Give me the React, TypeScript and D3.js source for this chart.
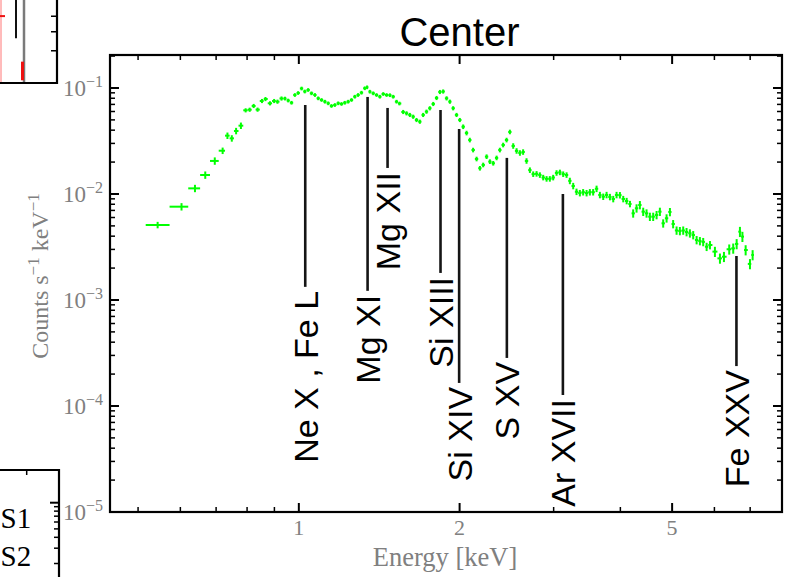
import React from 'react';
import * as d3 from 'd3';

// ---------- spectrum data (Energy keV, Counts s^-1 keV^-1, relative error) ----------
const energy = [
  0.544, 0.603, 0.639, 0.668, 0.696, 0.720, 0.735, 0.749, 0.763, 0.779,
  0.795, 0.809, 0.823, 0.837, 0.853, 0.866, 0.883, 0.899, 0.912, 0.928,
  0.942, 0.955, 0.969, 0.983, 0.997, 1.012, 1.026, 1.041, 1.056, 1.072,
  1.087, 1.103, 1.119, 1.135, 1.151, 1.168, 1.185, 1.202, 1.219, 1.237,
  1.255, 1.273, 1.291, 1.310, 1.329, 1.342, 1.358, 1.378, 1.398, 1.418,
  1.439, 1.460, 1.481, 1.502, 1.524, 1.543, 1.568, 1.591, 1.614, 1.637,
  1.661, 1.685, 1.709, 1.734, 1.759, 1.785, 1.811, 1.837, 1.863, 1.891,
  1.918, 1.945, 1.974, 2.002, 2.031, 2.061, 2.090, 2.120, 2.152, 2.183,
  2.214, 2.247, 2.279, 2.312, 2.346, 2.379, 2.413, 2.449, 2.484, 2.520,
  2.557, 2.594, 2.630, 2.669, 2.708, 2.747, 2.787, 2.827, 2.868, 2.910,
  2.951, 2.994, 3.038, 3.082, 3.126, 3.172, 3.217, 3.264, 3.311, 3.359,
  3.407, 3.458, 3.507, 3.557, 3.610, 3.662, 3.715, 3.769, 3.824, 3.879,
  3.935, 3.992, 4.050, 4.110, 4.169, 4.227, 4.289, 4.351, 4.414, 4.478,
  4.543, 4.608, 4.676, 4.743, 4.811, 4.882, 4.953, 5.022, 5.097, 5.170,
  5.245, 5.321, 5.398, 5.476, 5.557, 5.636, 5.717, 5.802, 5.886, 6.013,
  6.145, 6.252, 6.396, 6.507, 6.604, 6.698, 6.770, 6.865, 6.994, 7.075,
];

const counts = [
  0.00510, 0.00759, 0.0113, 0.0151, 0.0205, 0.0256, 0.0355, 0.0335, 0.0393, 0.0441,
  0.0616, 0.0624, 0.0677, 0.0625, 0.0754, 0.0787, 0.0717, 0.0754, 0.0743, 0.0796,
  0.0795, 0.0762, 0.0726, 0.0859, 0.0897, 0.0989, 0.0927, 0.0958, 0.0891, 0.0859,
  0.0799, 0.0771, 0.0743, 0.0717, 0.0677, 0.0691, 0.0717, 0.0707, 0.0726, 0.0743,
  0.0771, 0.0828, 0.0859, 0.0903, 0.0994, 0.1015, 0.0923, 0.0891, 0.0859, 0.0828,
  0.0878, 0.0859, 0.0855, 0.0828, 0.0743, 0.0714, 0.0594, 0.0577, 0.0557, 0.0536,
  0.0499, 0.0481, 0.0557, 0.0598, 0.0644, 0.0707, 0.0805, 0.0917, 0.0927, 0.0799,
  0.0743, 0.0644, 0.0557, 0.0499, 0.0431, 0.0376, 0.0323, 0.0260, 0.0214, 0.0175,
  0.0188, 0.0225, 0.0202, 0.0195, 0.0219, 0.0260, 0.0290, 0.0323, 0.0385, 0.0284,
  0.0255, 0.0244, 0.0249, 0.0205, 0.0168, 0.0154, 0.0155, 0.0151, 0.0143, 0.0139,
  0.0139, 0.0143, 0.0158, 0.0160, 0.0154, 0.0151, 0.0133, 0.0119, 0.0105, 0.0102,
  0.0104, 0.0102, 0.0104, 0.0104, 0.0112, 0.00979, 0.00943, 0.00979, 0.00937, 0.00897,
  0.00979, 0.00975, 0.00897, 0.00859, 0.00805, 0.00657, 0.00733, 0.00787, 0.00681, 0.00657,
  0.00611, 0.00611, 0.00634, 0.00681, 0.00529, 0.00590, 0.00677, 0.00521, 0.00453, 0.00448,
  0.00453, 0.00438, 0.00426, 0.00410, 0.00368, 0.00360, 0.00353, 0.00318, 0.00330, 0.00286,
  0.00247, 0.00256, 0.00301, 0.00307, 0.00338, 0.00441, 0.00396, 0.00296, 0.00219, 0.00266,
];

const relErr = [
  0.07, 0.08, 0.08, 0.08, 0.08, 0.07, 0.07, 0.07, 0.07, 0.07,
  0.045, 0.045, 0.045, 0.045, 0.045, 0.045, 0.045, 0.045, 0.045, 0.045,
  0.04, 0.04, 0.04, 0.04, 0.04, 0.04, 0.04, 0.04, 0.04, 0.04,
  0.04, 0.04, 0.04, 0.04, 0.04, 0.04, 0.04, 0.04, 0.04, 0.04,
  0.04, 0.04, 0.04, 0.04, 0.04, 0.04, 0.04, 0.04, 0.04, 0.04,
  0.04, 0.04, 0.04, 0.04, 0.04, 0.04, 0.045, 0.045, 0.045, 0.045,
  0.045, 0.045, 0.045, 0.045, 0.045, 0.045, 0.045, 0.045, 0.045, 0.045,
  0.045, 0.045, 0.045, 0.045, 0.05, 0.05, 0.05, 0.05, 0.05, 0.05,
  0.05, 0.05, 0.05, 0.05, 0.05, 0.05, 0.05, 0.05, 0.05, 0.06,
  0.06, 0.06, 0.06, 0.06, 0.06, 0.06, 0.06, 0.06, 0.06, 0.06,
  0.06, 0.06, 0.06, 0.06, 0.06, 0.06, 0.07, 0.07, 0.07, 0.07,
  0.07, 0.07, 0.07, 0.07, 0.07, 0.07, 0.07, 0.07, 0.07, 0.07,
  0.07, 0.07, 0.07, 0.07, 0.07, 0.09, 0.09, 0.09, 0.09, 0.09,
  0.09, 0.09, 0.09, 0.09, 0.09, 0.09, 0.09, 0.09, 0.09, 0.09,
  0.09, 0.09, 0.09, 0.09, 0.09, 0.09, 0.09, 0.09, 0.09, 0.11,
  0.11, 0.11, 0.11, 0.11, 0.11, 0.11, 0.11, 0.11, 0.11, 0.11,
];

// ---------- emission line markers ----------
const lineLabels = ['Ne X , Fe L', 'Mg XI', 'Mg XII', 'Si XIII', 'Si XIV', 'S XV', 'Ar XVII', 'Fe XXV'];
const lineEnergy = [1.028, 1.345, 1.466, 1.842, 1.996, 2.452, 3.122, 6.598];
const lineTop = [0.0691, 0.0823, 0.0648, 0.0620, 0.0410, 0.0219, 0.0100, 0.0026];
const lineBottom = [1.33e-3, 1.22e-3, 1.76e-2, 1.80e-3, 1.65e-4, 2.84e-4, 1.27e-4, 2.38e-4];

// ---------- axes ----------
const xMajorTicks = [1, 2, 5];
const xMajorLabels = ['1', '2', '5'];
const xMinorTicks = [0.5, 0.6, 0.7, 0.8, 0.9, 3, 4, 6, 7];
const yDecadeExps = [-1, -2, -3, -4, -5];
const yMinorMults = [2, 3, 4, 5, 6, 7, 8, 9];
const titleText = 'Center';
const xLabelText = 'Energy [keV]';

// ---------- fragments of neighbouring panels ----------
const tlSegX = [5.9, 6.7, 6.55, 4.4];
const tlSegY0 = [7.26, 7.26, 3.52, 7.26];
const tlSegY1 = [4.64, 2.74, 2.83, 2.74];
const tlSegColor = ['#111111', '#7a7a7a', '#ee1111', '#ff7777'];
const tlSegWidth = [2, 2.5, 3, 1];
const tlHorizY = 6.01;
const tlHorizX = [4.3, 4.8];
const tlRightTicks = [4, 5, 6];
const blMajorTicks = [1];
const blMinorTicks = [0.9, 0.8, 0.7, 0.6, 0.5, 0.4, 0.3, 0.2];
const blTopTicks = [0.91];
const legendLabels = ['S1', 'S2'];

const W = 785, H = 577;
const PL = 110, PR = 782, PT = 55, PB = 512;
const SERIF = "'Liberation Serif', 'DejaVu Serif', serif";
const SANS = "'Liberation Sans', Arial, sans-serif";
const GRAY = '#808080';
const GREEN = '#00ff00';

export default function App() {
  const x = d3.scaleLog().domain([0.443, 8.03]).range([PL, PR]);
  const y = d3.scaleLog().domain([1e-5, 0.2047]).range([PB, PT]);

  const n = Math.min(energy.length, counts.length, relErr.length);
  const pts = d3.range(n).map((i) => {
    const e = energy[i];
    const lo = i > 0 ? Math.sqrt(energy[i - 1] * e) : (e * e) / Math.sqrt(e * energy[i + 1]);
    const hi = i < n - 1 ? Math.sqrt(e * energy[i + 1]) : (e * e) / Math.sqrt(energy[i - 1] * e);
    return { e, c: counts[i], lo, hi, err: relErr[i] };
  });

  const yMajor = yDecadeExps.map((p) => Math.pow(10, p));
  const yMinor: number[] = [];
  yDecadeExps.forEach((p) => yMinorMults.forEach((k) => {
    const v = k * Math.pow(10, p);
    if (v < 0.2047) yMinor.push(v);
  }));

  const MAJ = 9, MIN = 5;

  // neighbour panel scales
  const tlX = d3.scaleLinear().domain([0, 10]).range([-43, 57]);
  const tlY = d3.scaleLog().domain([2.74, 7.26]).range([83, 0]);
  const blY = d3.scaleLog().domain([0.1, 2.376]).range([589.7, 470]);
  const blX = d3.scaleLinear().domain([0, 1]).range([-300, 59]);

  return (
    <svg width={W} height={H} style={{ position: 'absolute', left: 0, top: 0, background: '#fff' }}>
      <defs>
        <clipPath id="plotclip">
          <rect x={PL} y={PT} width={PR - PL} height={PB - PT} />
        </clipPath>
      </defs>
      <rect x={0} y={0} width={W} height={H} fill="#fff" />

      {/* top-left neighbour panel fragment */}
      <g>
        {tlSegX.map((v, i) => (
          <line key={'tls' + i} x1={tlX(v)} x2={tlX(v)} y1={tlY(tlSegY0[i])} y2={tlY(tlSegY1[i])}
            stroke={tlSegColor[i]} strokeWidth={tlSegWidth[i]} />
        ))}
        <line x1={tlX(tlHorizX[0])} x2={tlX(tlHorizX[1])} y1={tlY(tlHorizY)} y2={tlY(tlHorizY)} stroke="#ee1111" strokeWidth={2} />
        {tlRightTicks.map((v, i) => (
          <line key={'tlt' + i} x1={57} x2={57 - 6} y1={tlY(v)} y2={tlY(v)} stroke="#000" strokeWidth={1.5} />
        ))}
        <path d={`M-5,${tlY(2.74)} H57 V0`} fill="none" stroke="#000" strokeWidth={2.2} />
      </g>

      {/* bottom-left neighbour panel fragment */}
      <g>
        {blMajorTicks.map((v, i) => (
          <line key={'blM' + i} x1={59} x2={59 - 9} y1={blY(v)} y2={blY(v)} stroke="#000" strokeWidth={2} />
        ))}
        {blMinorTicks.map((v, i) => (
          <line key={'blm' + i} x1={59} x2={59 - 5} y1={blY(v)} y2={blY(v)} stroke="#000" strokeWidth={1.5} />
        ))}
        {blTopTicks.map((v, i) => (
          <line key={'blt' + i} x1={blX(v)} x2={blX(v)} y1={470} y2={475} stroke="#000" strokeWidth={1.5} />
        ))}
        <path d={`M-5,470 H59 V${H + 5}`} fill="none" stroke="#000" strokeWidth={2.2} />
        {legendLabels.map((t, i) => (
          <text key={'lg' + i} x={0.5} y={528 + i * 38} fontFamily={SERIF} fontSize={29} fill="#000">{t}</text>
        ))}
      </g>

      {/* title */}
      <text x={459.5} y={46} textAnchor="middle" fontFamily={SANS} fontSize={40} fill="#000">{titleText}</text>

      {/* data */}
      <g clipPath="url(#plotclip)">
        {pts.map((p, i) => (
          <g key={'p' + i} stroke={GREEN} strokeWidth={2}>
            <line x1={x(p.lo)} x2={x(p.hi)} y1={y(p.c)} y2={y(p.c)} />
            <line x1={x(p.e)} x2={x(p.e)} y1={y(p.c * (1 - p.err))} y2={y(p.c * (1 + p.err))} />
          </g>
        ))}
      </g>

      {/* emission lines */}
      {lineLabels.map((lab, i) => {
        const lx = x(lineEnergy[i]);
        const yb = y(lineBottom[i]);
        return (
          <g key={'el' + i}>
            <line x1={lx} x2={lx} y1={y(lineTop[i])} y2={yb} stroke="#151515" strokeWidth={2.6} />
            <text transform={`translate(${lx + 12.5},${yb + 4}) rotate(-90)`} textAnchor="end"
              fontFamily={SANS} fontSize={34} fill="#000">{lab}</text>
          </g>
        );
      })}

      {/* ticks */}
      <g stroke="#000">
        {xMajorTicks.map((v, i) => (
          <g key={'xM' + i} strokeWidth={2}>
            <line x1={x(v)} x2={x(v)} y1={PB} y2={PB - MAJ} />
            <line x1={x(v)} x2={x(v)} y1={PT} y2={PT + MAJ} />
          </g>
        ))}
        {xMinorTicks.map((v, i) => (
          <g key={'xm' + i} strokeWidth={1.5}>
            <line x1={x(v)} x2={x(v)} y1={PB} y2={PB - MIN} />
            <line x1={x(v)} x2={x(v)} y1={PT} y2={PT + MIN} />
          </g>
        ))}
        {yMajor.map((v, i) => (
          <g key={'yM' + i} strokeWidth={2}>
            <line x1={PL} x2={PL + MAJ} y1={y(v)} y2={y(v)} />
            <line x1={PR} x2={PR - MAJ} y1={y(v)} y2={y(v)} />
          </g>
        ))}
        {yMinor.map((v, i) => (
          <g key={'ym' + i} strokeWidth={1.5}>
            <line x1={PL} x2={PL + MIN} y1={y(v)} y2={y(v)} />
            <line x1={PR} x2={PR - MIN} y1={y(v)} y2={y(v)} />
          </g>
        ))}
      </g>

      {/* frame */}
      <rect x={PL} y={PT} width={PR - PL} height={PB - PT} fill="none" stroke="#000" strokeWidth={2.2} />

      {/* tick labels */}
      {xMajorTicks.map((v, i) => (
        <text key={'xl' + i} x={x(v)} y={535} textAnchor="middle" fontFamily={SERIF} fontSize={22} fill={GRAY}>{xMajorLabels[i]}</text>
      ))}
      {yDecadeExps.map((p, i) => (
        <text key={'yl' + i} x={103} y={y(Math.pow(10, p)) + 8} textAnchor="end" fontFamily={SERIF} fontSize={23} fill={GRAY}>
          10<tspan dy={-9} fontSize={16}>{'\u2212' + String(-p)}</tspan>
        </text>
      ))}

      {/* axis labels */}
      <text x={445} y={566} textAnchor="middle" fontFamily={SERIF} fontSize={26.5} fill={GRAY}>{xLabelText}</text>
      <text transform={`translate(48,276) rotate(-90)`} textAnchor="middle" fontFamily={SERIF} fontSize={24} fill={GRAY}>
        Counts s<tspan dy={-9} fontSize={17}>{'\u22121'}</tspan><tspan dy={9}>{' keV'}</tspan><tspan dy={-9} fontSize={17}>{'\u22121'}</tspan>
      </text>
    </svg>
  );
}
